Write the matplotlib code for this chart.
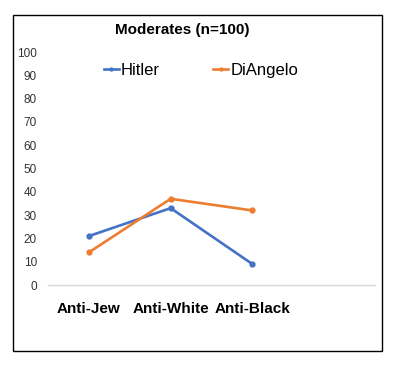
import matplotlib
matplotlib.use('Agg')
import matplotlib.pyplot as plt
from matplotlib.patches import Rectangle

plt.rcParams['font.family'] = ['Liberation Sans', 'DejaVu Sans']

categories = ['Anti-Jew', 'Anti-White', 'Anti-Black', '']
hitler = [21, 33, 9]
diangelo = [14, 37, 32]

fig = plt.figure(figsize=(4.0, 3.69), dpi=100)
ax = fig.add_axes([0.12, 0.2276, 0.8175, 0.6314])

x = list(range(len(hitler)))
ax.plot(x, hitler, color='#4472C4', lw=1.9, marker='o', ms=3.5, label='Hitler')
ax.plot(x, diangelo, color='#ED7D31', lw=1.9, marker='o', ms=3.5, label='DiAngelo')

ax.set_xlim(-0.5, len(categories) - 0.5)
ax.set_ylim(0, 100)
ax.set_yticks(range(0, 101, 10))
ax.set_xticks(range(len(categories)))
ax.set_xticklabels(categories, fontsize=11, fontweight='bold', color='black')
ax.tick_params(axis='both', length=0)
ax.tick_params(axis='y', labelsize=8.5, labelcolor='#333333', pad=8)
ax.tick_params(axis='x', pad=12)
for s in ['top', 'right', 'left']:
    ax.spines[s].set_visible(False)
ax.spines['bottom'].set_color('#d9d9d9')
ax.spines['bottom'].set_linewidth(1)

ax.set_title('Moderates (n=100)', fontsize=11, fontweight='bold', x=0.41, pad=13)

fig.legend(loc='center', bbox_to_anchor=(0.503, 0.81), ncol=2, frameon=False,
           fontsize=12, handlelength=0.9, handletextpad=0.15, columnspacing=3.2,
           markerscale=0.6)

fig.patches.append(Rectangle((0.0325, 0.0488), 0.9225, 0.9106, transform=fig.transFigure,
                             fill=False, edgecolor='black', lw=1))

fig.savefig('out.png', dpi=100)
